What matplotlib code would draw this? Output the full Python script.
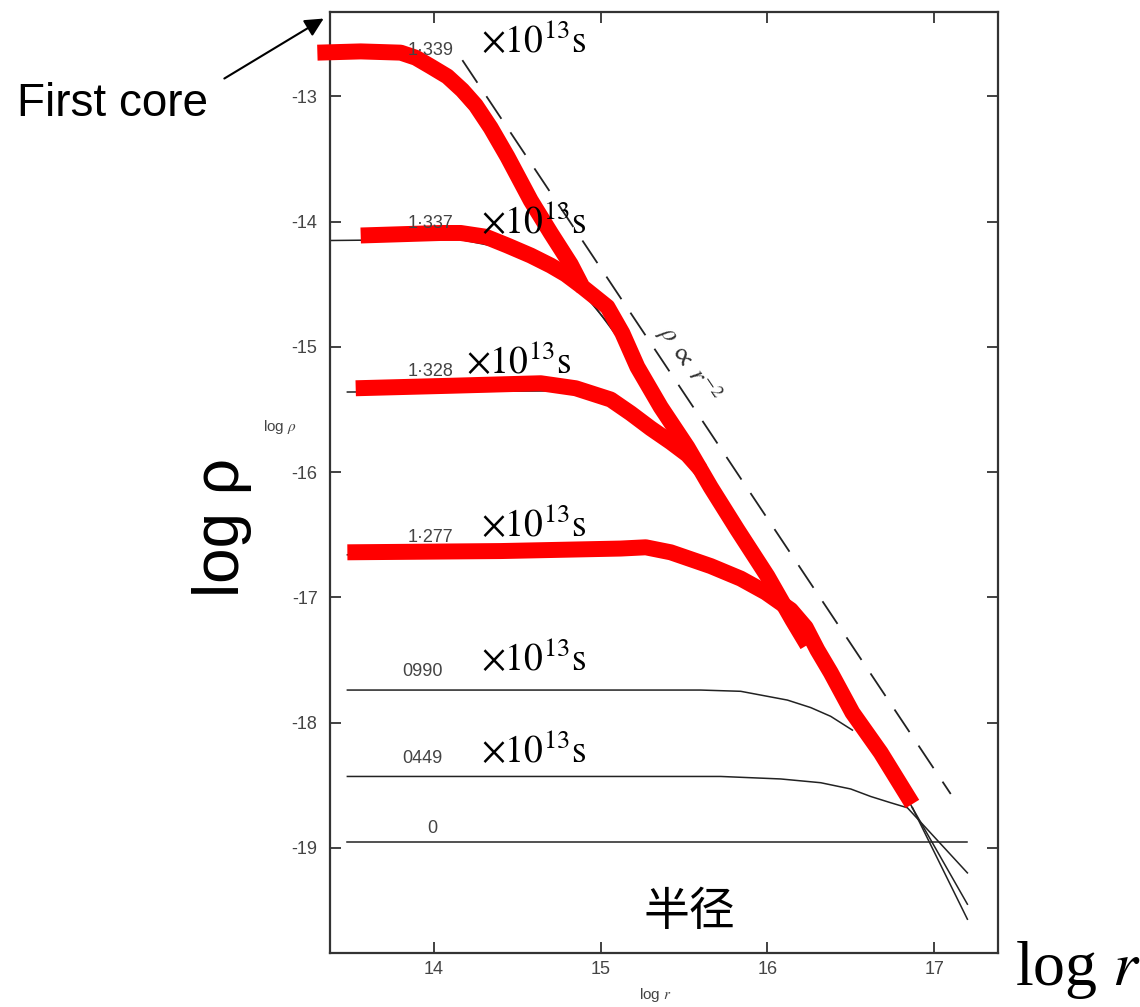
import numpy as np
import matplotlib
matplotlib.use('Agg')
import matplotlib.pyplot as plt

plt.rcParams['font.family'] = ['Liberation Sans', 'DejaVu Sans']
plt.rcParams['mathtext.fontset'] = 'stix'
plt.rcParams['axes.unicode_minus'] = False

# curvas originais (preto) - log r, log rho
t1339_x = [13.38, 13.85, 14.05, 14.25, 14.45, 14.70, 14.90]
t1339_y = [-12.66, -12.67, -12.85, -13.15, -13.55, -14.10, -14.56]
t1337_x = [13.38, 14.15, 14.45, 14.70, 14.90, 15.10]
t1337_y = [-14.15, -14.14, -14.22, -14.38, -14.58, -14.90]
t1328_x = [13.48, 14.90, 15.10, 15.30, 15.50]
t1328_y = [-15.36, -15.35, -15.43, -15.60, -15.80]
t1277_x = [13.48, 15.30, 15.70, 16.00, 16.20]
t1277_y = [-16.66, -16.63, -16.78, -16.97, -17.18]
t0990_x = [13.48, 15.00, 15.60, 15.84, 16.12, 16.26, 16.38, 16.51]
t0990_y = [-17.74, -17.74, -17.74, -17.75, -17.82, -17.88, -17.95, -18.06]
t0449_x = [13.48, 15.72, 16.08, 16.32, 16.50, 16.62, 16.74, 16.84, 17.20]
t0449_y = [-18.43, -18.43, -18.45, -18.48, -18.53, -18.59, -18.64, -18.68, -19.20]
t0_x = [13.48, 17.20]
t0_y = [-18.95, -18.95]
# envelope comum (colapso)
env_x = [14.90, 15.20, 15.50, 15.80, 16.10, 16.40, 16.70, 16.87]
env_y = [-14.56, -15.10, -15.78, -16.38, -16.98, -17.60, -18.27, -18.68]
tail_x = [16.87, 17.20]
tail_a_y = [-18.68, -19.45]
tail_b_y = [-18.68, -19.57]

# linha tracejada rho ~ r^-2
dash_x = [14.17, 17.10]
dash_y = [-12.71, -18.57]

# curvas vermelhas
redA_x = [13.30, 13.56, 13.80, 13.89, 13.98, 14.08, 14.17, 14.25, 14.34, 14.44, 14.58, 14.70,
          14.82, 14.89, 15.04, 15.13, 15.22, 15.36, 15.52, 15.66, 15.82, 16.00, 16.15, 16.24]
redA_y = [-12.65, -12.64, -12.65, -12.69, -12.76, -12.84, -12.95, -13.07, -13.25, -13.48, -13.83,
          -14.09, -14.34, -14.52, -14.68, -14.89, -15.16, -15.48, -15.80, -16.12, -16.46, -16.83,
          -17.18, -17.38]
redB_x = [13.56, 13.80, 14.04, 14.16, 14.31, 14.44, 14.58, 14.70, 14.79, 14.89]
redB_y = [-14.11, -14.10, -14.09, -14.09, -14.12, -14.19, -14.27, -14.35, -14.42, -14.52]
redC_x = [13.53, 14.10, 14.64, 14.85, 15.06, 15.18, 15.30, 15.42, 15.52, 15.60]
redC_y = [-15.33, -15.31, -15.29, -15.33, -15.42, -15.53, -15.65, -15.76, -15.86, -15.98]
redD_x = [13.48, 14.40, 15.12, 15.27, 15.42, 15.66, 15.84, 15.99, 16.14, 16.23, 16.30, 16.38,
          16.51, 16.68, 16.87]
redD_y = [-16.64, -16.63, -16.61, -16.60, -16.64, -16.75, -16.85, -16.96, -17.10, -17.24, -17.42,
          -17.60, -17.92, -18.24, -18.65]

# rotulos de tempo
tempos = ['1·339', '1·337', '1·328', '1·277', '0990', '0449', '0']
tempo_x = [13.84, 13.84, 13.84, 13.84, 13.81, 13.81, 13.96]
tempo_y = [-12.67, -14.05, -15.23, -16.56, -17.63, -18.32, -18.88]
escala_x = [14.28, 14.28, 14.19, 14.28, 14.28, 14.28]
escala_y = [-12.65, -14.10, -15.22, -16.52, -17.59, -18.32]

fig = plt.figure(figsize=(11.4, 10.07), dpi=100)
ax = fig.add_axes([0.2895, 0.0536, 0.5860, 0.9344])

preto = '#222222'
for xs, ys in [(t1339_x, t1339_y), (t1337_x, t1337_y), (t1328_x, t1328_y), (t1277_x, t1277_y),
               (t0990_x, t0990_y), (t0449_x, t0449_y), (t0_x, t0_y), (env_x, env_y),
               (tail_x, tail_a_y), (tail_x, tail_b_y)]:
    ax.plot(xs, ys, color=preto, lw=1.1, zorder=2)

ax.plot(dash_x, dash_y, color=preto, lw=1.3, dashes=(15, 9), zorder=2)
ax.text(15.53, -15.13, r'$\rho\ \propto\ r^{-2}$', rotation=-56, fontsize=19, color='#333333',
        ha='center', va='center')

for xs, ys in [(redA_x, redA_y), (redB_x, redB_y), (redC_x, redC_y), (redD_x, redD_y)]:
    ax.plot(xs, ys, color='#ff0000', lw=11.5, solid_capstyle='butt', solid_joinstyle='round',
            zorder=3, clip_on=False)

for lab, x, y in zip(tempos, tempo_x, tempo_y):
    ax.text(x, y, lab, fontsize=13, color='#444444', ha='left', va='baseline', zorder=4)
for x, y in zip(escala_x, escala_y):
    ax.text(x, y, r'$\times 10^{13}\mathrm{s}$', fontsize=27, color='black', ha='left',
            va='baseline', zorder=4)

ax.set_xlim(13.376, 17.384)
ax.set_ylim(-19.84, -12.326)
ax.set_xticks([14, 15, 16, 17])
ax.set_yticks([-13, -14, -15, -16, -17, -18, -19])
ax.tick_params(direction='in', length=8, width=1.3, color='#333333', labelsize=13,
               labelcolor='#444444', top=True, right=True)
ax.tick_params(axis='x', pad=6)
ax.tick_params(axis='y', pad=9)
for s in ax.spines.values():
    s.set_linewidth(1.6)
    s.set_color('#333333')

# rotulos pequenos do original
ax.text(13.076, -15.64, r'log $\rho$', fontsize=11, color='#444444', ha='center', va='center',
        clip_on=False)
fig.text(0.575, 0.012, r'log $r$', fontsize=11, color='#444444', ha='center', va='center')

# rotulos grandes
fig.text(0.1947, 0.4757, 'log ρ', fontsize=46, rotation=90, ha='center', va='center')
fig.text(0.890, 0.0218, r'log $\mathit{r}$', fontsize=46, family='Liberation Serif',
         ha='left', va='baseline')
fig.text(0.605, 0.0943, '半径', fontsize=33, family=['Noto Sans CJK SC', 'DejaVu Sans'],
         ha='center', va='center')

fig.text(0.015, 0.897, 'First core', fontsize=33, ha='left', va='center')
ax.annotate('', xy=(0.286, 0.983), xycoords='figure fraction',
            xytext=(0.1947, 0.9206), textcoords='figure fraction',
            arrowprops=dict(arrowstyle='-|>', color='black', lw=1.5, mutation_scale=28))

fig.savefig('out.png', dpi=100)
